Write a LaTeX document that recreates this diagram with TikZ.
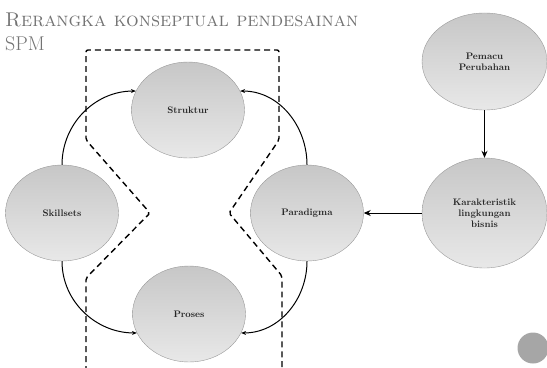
\documentclass[tikz,border=0pt]{standalone}
\usetikzlibrary{shapes.geometric,arrows.meta}
\begin{document}
\begin{tikzpicture}[x=1bp,y=1bp,
  bubble/.style={ellipse,draw=black!40,top color=black!22,bottom color=black!9,
    minimum width=113bp,minimum height=96bp,inner sep=0pt,align=center,
    text=black!85,font=\fontsize{9.5}{11}\selectfont\bfseries},
  flow/.style={-{Stealth[length=5pt,width=4pt]},line width=1pt},
  bound/.style={dashed,line width=1.4pt,dash pattern=on 6pt off 4pt,rounded corners=2bp}]
\useasboundingbox (0,0) rectangle (547,367);
\node[anchor=north west,align=left,text=black!55,inner sep=0pt,
  font=\fontsize{20}{24}\selectfont] (title) at (5,354)
  {\textsc{Rerangka konseptual pendesainan}\\SPM};
\draw[bound] (86,-5) -- (86,89) -- (150,154) -- (86,227) -- (86,317)
  -- (279,317) -- (279,227) -- (229,154) -- (282,91) -- (282,-5);
\node[bubble] (struk) at (188,257) {Struktur};
\node[bubble] (skill) at (62,154) {Skillsets};
\node[bubble] (para) at (307,154) {Paradigma};
\node[bubble] (proses) at (189,53) {Proses};
\node[bubble,minimum width=125bp,minimum height=97bp] (pem) at (484.5,305.5) {Pemacu\\Perubahan};
\node[bubble,minimum width=125bp,minimum height=110bp] (kar) at (484.5,154) {Karakteristik\\lingkungan\\bisnis};
\node[circle,fill=black!35,minimum size=31bp,inner sep=0pt] (dot) at (533,19) {};
\draw[flow] (skill.north) to[out=90,in=180] (struk.160);
\draw[flow] (para.north) to[out=90,in=0] (struk.20);
\draw[flow] (skill.south) to[out=-90,in=180] (proses.200);
\draw[flow] (para.south) to[out=-90,in=0] (proses.-20);
\draw[flow,-{Stealth[length=7pt,width=6pt]}] (pem) -- (kar);
\draw[flow,-{Stealth[length=7pt,width=6pt]}] (kar) -- (para);
\end{tikzpicture}
\end{document}
